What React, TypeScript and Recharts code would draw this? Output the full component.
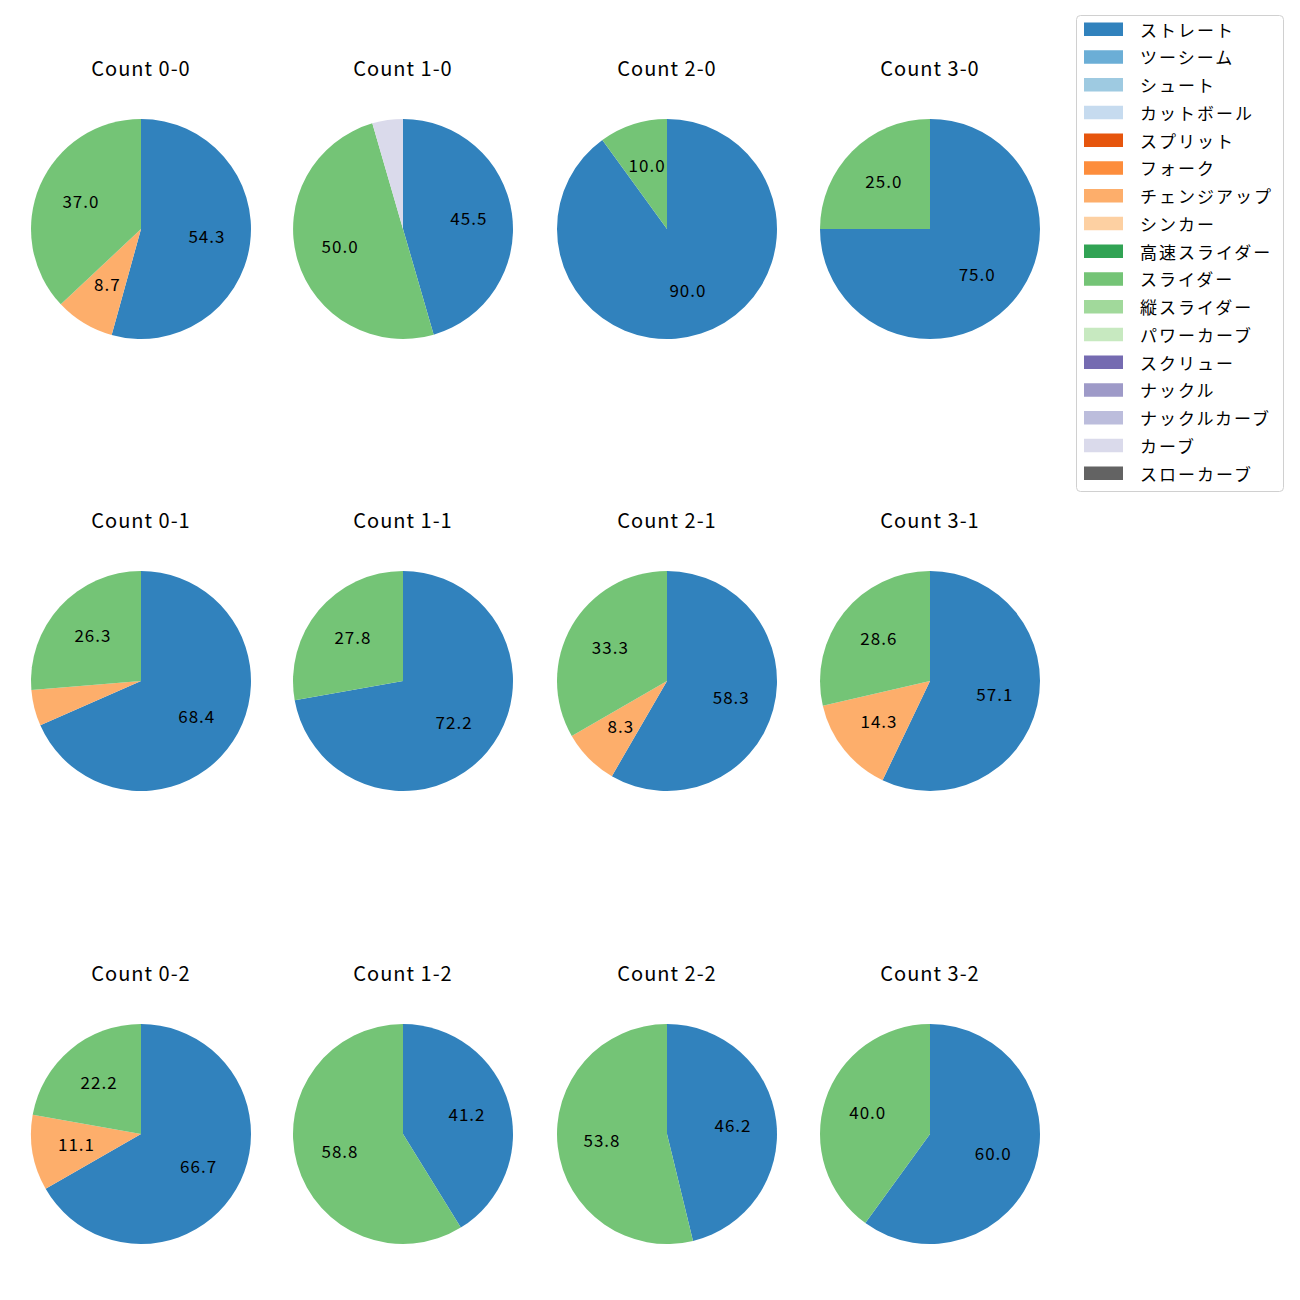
import React from 'react';
import { PieChart, Pie, Cell } from 'recharts';

const FONT = '"Noto Sans CJK JP", "Noto Sans", sans-serif';

const pitchNames = [
  'ストレート', 'ツーシーム', 'シュート', 'カットボール', 'スプリット', 'フォーク',
  'チェンジアップ', 'シンカー', '高速スライダー', 'スライダー', '縦スライダー',
  'パワーカーブ', 'スクリュー', 'ナックル', 'ナックルカーブ', 'カーブ', 'スローカーブ',
];
const pitchColors = [
  '#3182bd', '#6baed6', '#9ecae1', '#c6dbef', '#e6550d', '#fd8d3c',
  '#fdae6b', '#fdd0a2', '#31a354', '#74c476', '#a1d99b',
  '#c7e9c0', '#756bb1', '#9e9ac8', '#bcbddc', '#dadaeb', '#636363',
];

const counts = ['0-0', '1-0', '2-0', '3-0', '0-1', '1-1', '2-1', '3-1', '0-2', '1-2', '2-2', '3-2'];
const straight = [54.3, 45.5, 90.0, 75.0, 68.4, 72.2, 58.3, 57.1, 66.7, 41.2, 46.2, 60.0];
const changeup = [8.7, 0, 0, 0, 5.3, 0, 8.3, 14.3, 11.1, 0, 0, 0];
const slider = [37.0, 50.0, 10.0, 25.0, 26.3, 27.8, 33.3, 28.6, 22.2, 58.8, 53.8, 40.0];
const curve = [0, 4.5, 0, 0, 0, 0, 0, 0, 0, 0, 0, 0];

const colCenters = [141, 403, 667, 930];
const rowCenters = [229, 681, 1134];
const titleY = [68, 520, 973];

const RAD = Math.PI / 180;
const R = 110;

function buildSlices(i: number) {
  const series: [number, number[]][] = [
    [0, straight],
    [6, changeup],
    [9, slider],
    [15, curve],
  ];
  return series
    .map(([idx, arr]) => ({ name: pitchNames[idx], color: pitchColors[idx], value: arr[i] }))
    .filter((d) => d.value > 0);
}

const renderLabel = (props: any) => {
  const { cx, cy, midAngle, outerRadius, value } = props;
  if (value < 6) return null;
  const r = outerRadius * 0.6;
  const x = cx + r * Math.cos(-midAngle * RAD);
  const y = cy + r * Math.sin(-midAngle * RAD);
  return (
    <text
      x={x + 0.5}
      y={y - 2}
      textAnchor="middle"
      dominantBaseline="central"
      fontSize={17}
      fontFamily={FONT}
      letterSpacing={1}
      fill="#000"
    >
      {value.toFixed(1)}
    </text>
  );
};

function OnePie({ i }: { i: number }) {
  const col = i % 4;
  const row = Math.floor(i / 4);
  const cx = colCenters[col];
  const cy = rowCenters[row];
  const data = buildSlices(i);
  return (
    <>
      <div
        style={{
          position: 'absolute',
          left: cx - 120,
          top: titleY[row] - 15,
          width: 240,
          height: 30,
          lineHeight: '30px',
          textAlign: 'center',
          fontFamily: FONT,
          fontSize: 20,
          letterSpacing: 1,
          color: '#000',
        }}
      >
        {'Count ' + counts[i]}
      </div>
      <div style={{ position: 'absolute', left: cx - 120, top: cy - 120 }}>
        <PieChart width={240} height={240}>
          <Pie
            data={data}
            dataKey="value"
            nameKey="name"
            cx="50%"
            cy="50%"
            outerRadius={R}
            startAngle={90}
            endAngle={-270}
            stroke="none"
            label={renderLabel}
            labelLine={false}
            isAnimationActive={false}
          >
            {data.map((d, k) => (
              <Cell key={k} fill={d.color} />
            ))}
          </Pie>
        </PieChart>
      </div>
    </>
  );
}

function LegendBox() {
  const pitch = 27.75;
  return (
    <svg
      style={{ position: 'absolute', left: 1075, top: 14 }}
      width={210}
      height={480}
    >
      <rect x={1.5} y={1.5} width={207} height={476} rx={4} ry={4} fill="#fff" stroke="#d0d0d0" strokeWidth={1} />
      {pitchNames.map((n, k) => {
        const yc = 15 + k * pitch;
        return (
          <g key={n}>
            <rect x={9} y={yc - 6.5} width={39} height={13.5} fill={pitchColors[k]} />
            <text
              x={65}
              y={yc}
              dominantBaseline="central"
              fontSize={17}
              letterSpacing={2}
              fontFamily={FONT}
              fill="#000"
            >
              {n}
            </text>
          </g>
        );
      })}
    </svg>
  );
}

export default function App() {
  return (
    <div style={{ position: 'absolute', left: 0, top: 0, width: 1300, height: 1300, background: '#fff' }}>
      {counts.map((c, i) => (
        <OnePie key={c} i={i} />
      ))}
      <LegendBox />
    </div>
  );
}
